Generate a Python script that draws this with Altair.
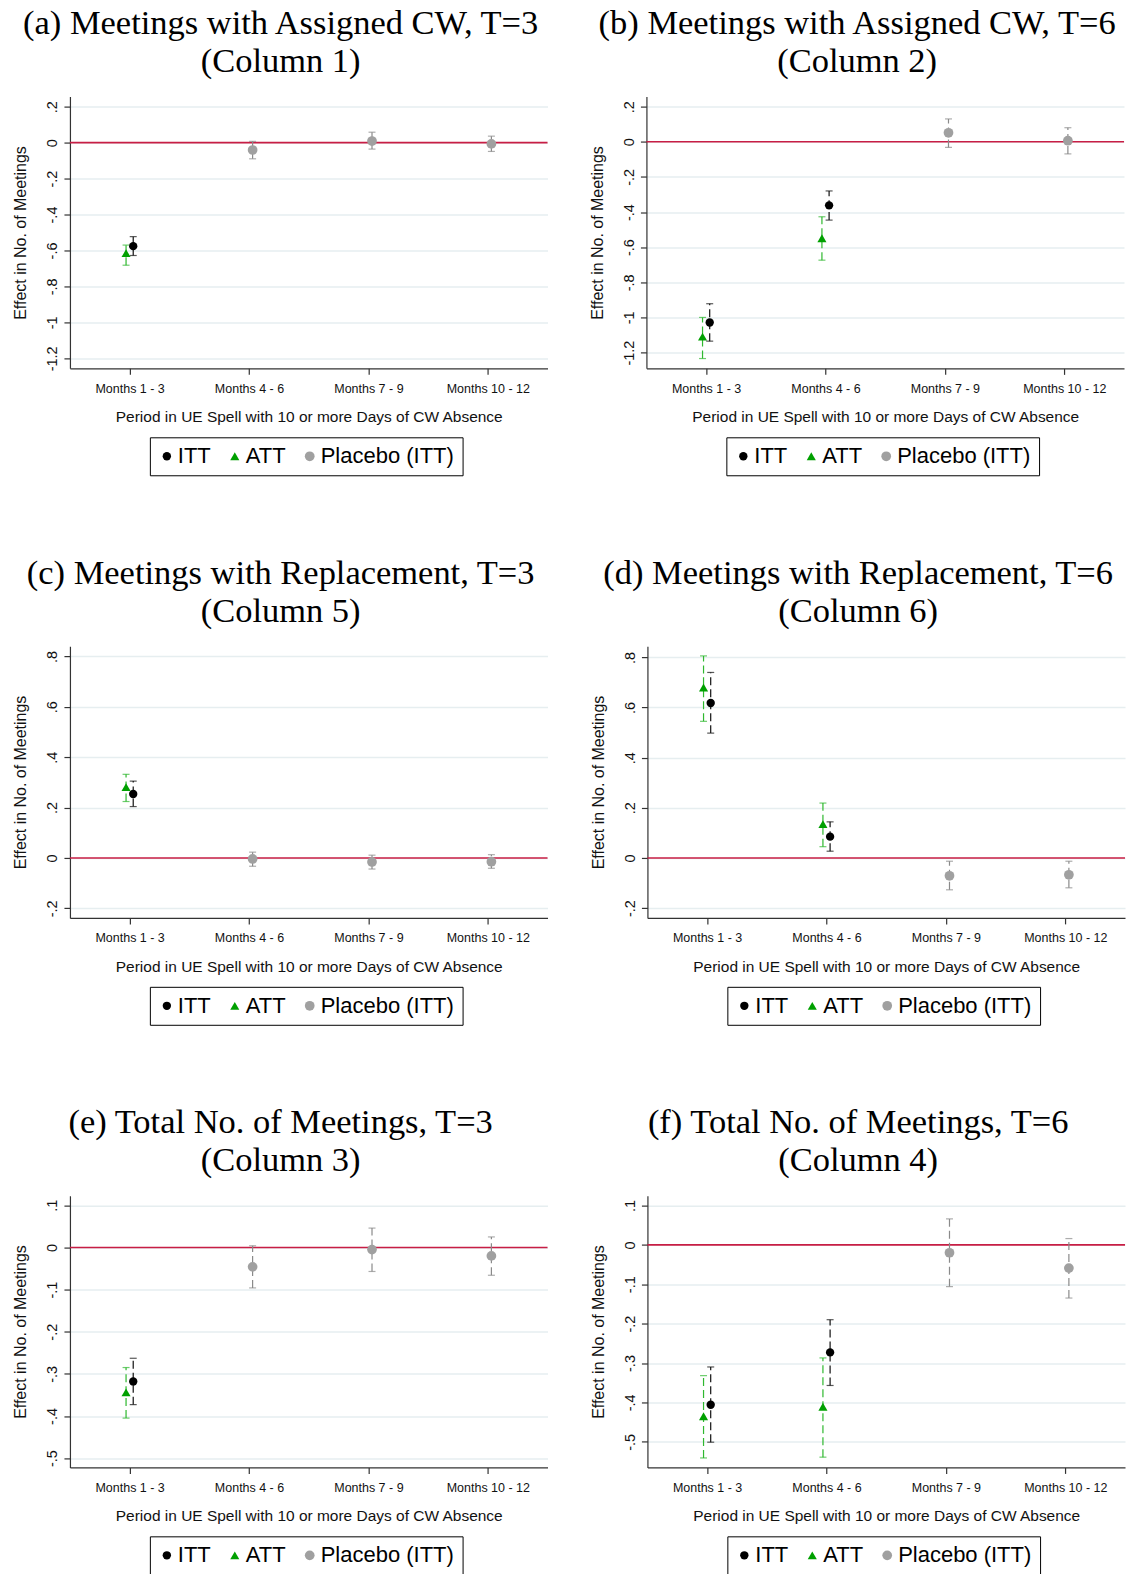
import json
import altair as alt
import pandas as pd

# ---------------- data ----------------
periods = ["Months 1 - 3", "Months 4 - 6", "Months 7 - 9", "Months 10 - 12"]
series_names = ["ITT", "ATT", "Placebo (ITT)"]

x_title = "Period in UE Spell with 10 or more Days of CW Absence"
y_title = "Effect in No. of Meetings"

# (a) Meetings with Assigned CW, T=3
a_title = ["(a) Meetings with Assigned CW, T=3", "(Column 1)"]
a_itt = [-0.576, None, None, None]
a_itt_lo = [-0.628, None, None, None]
a_itt_hi = [-0.523, None, None, None]
a_att = [-0.615, None, None, None]
a_att_lo = [-0.682, None, None, None]
a_att_hi = [-0.570, None, None, None]
a_pla = [None, -0.041, 0.009, -0.007]
a_pla_lo = [None, -0.090, -0.036, -0.049]
a_pla_hi = [None, 0.007, 0.058, 0.036]
a_ticks = [-1.2, -1.0, -0.8, -0.6, -0.4, -0.2, 0.0, 0.2]
a_range = [-1.256, 0.256]

# (b) Meetings with Assigned CW, T=6
b_title = ["(b) Meetings with Assigned CW, T=6", "(Column 2)"]
b_itt = [-1.029, -0.362, None, None]
b_itt_lo = [-1.135, -0.446, None, None]
b_itt_hi = [-0.922, -0.280, None, None]
b_att = [-1.109, -0.549, None, None]
b_att_lo = [-1.234, -0.674, None, None]
b_att_hi = [-1.000, -0.427, None, None]
b_pla = [None, None, 0.051, 0.006]
b_pla_lo = [None, None, -0.032, -0.069]
b_pla_hi = [None, None, 0.130, 0.080]
b_ticks = [-1.2, -1.0, -0.8, -0.6, -0.4, -0.2, 0.0, 0.2]
b_range = [-1.29, 0.257]

# (c) Meetings with Replacement, T=3
c_title = ["(c) Meetings with Replacement, T=3", "(Column 5)"]
c_itt = [0.254, None, None, None]
c_itt_lo = [0.204, None, None, None]
c_itt_hi = [0.305, None, None, None]
c_att = [0.281, None, None, None]
c_att_lo = [0.224, None, None, None]
c_att_hi = [0.332, None, None, None]
c_pla = [None, -0.004, -0.016, -0.015]
c_pla_lo = [None, -0.033, -0.044, -0.041]
c_pla_hi = [None, 0.023, 0.011, 0.013]
c_ticks = [-0.2, 0.0, 0.2, 0.4, 0.6, 0.8]
c_range = [-0.238, 0.841]

# (d) Meetings with Replacement, T=6
d_title = ["(d) Meetings with Replacement, T=6", "(Column 6)"]
d_itt = [0.618, 0.085, None, None]
d_itt_lo = [0.498, 0.027, None, None]
d_itt_hi = [0.740, 0.144, None, None]
d_att = [0.680, 0.135, None, None]
d_att_lo = [0.545, 0.045, None, None]
d_att_hi = [0.806, 0.219, None, None]
d_pla = [None, None, -0.071, -0.067]
d_pla_lo = [None, None, -0.127, -0.119]
d_pla_hi = [None, None, -0.013, -0.013]
d_ticks = [-0.2, 0.0, 0.2, 0.4, 0.6, 0.8]
d_range = [-0.239, 0.845]

# (e) Total No. of Meetings, T=3
e_title = ["(e) Total No. of Meetings, T=3", "(Column 3)"]
e_itt = [-0.318, None, None, None]
e_itt_lo = [-0.373, None, None, None]
e_itt_hi = [-0.263, None, None, None]
e_att = [-0.344, None, None, None]
e_att_lo = [-0.405, None, None, None]
e_att_hi = [-0.285, None, None, None]
e_pla = [None, -0.046, -0.005, -0.020]
e_pla_lo = [None, -0.096, -0.057, -0.066]
e_pla_hi = [None, 0.004, 0.046, 0.025]
e_ticks = [-0.5, -0.4, -0.3, -0.2, -0.1, 0.0, 0.1]
e_range = [-0.522, 0.123]

# (f) Total No. of Meetings, T=6
f_title = ["(f) Total No. of Meetings, T=6", "(Column 4)"]
f_itt = [-0.406, -0.273, None, None]
f_itt_lo = [-0.501, -0.357, None, None]
f_itt_hi = [-0.310, -0.190, None, None]
f_att = [-0.435, -0.411, None, None]
f_att_lo = [-0.541, -0.539, None, None]
f_att_hi = [-0.332, -0.287, None, None]
f_pla = [None, None, -0.020, -0.059]
f_pla_lo = [None, None, -0.106, -0.135]
f_pla_hi = [None, None, 0.066, 0.016]
f_ticks = [-0.5, -0.4, -0.3, -0.2, -0.1, 0.0, 0.1]
f_range = [-0.565, 0.125]

# ---------------- style ----------------
RED = "#c81e45"
marker_colors = ["#000000", "#00a000", "#a0a0a0"]
marker_sizes = [70, 95, 70]
bar_colors = {"ITT": "#111111", "ATT": "#2fb82f", "Placebo (ITT)": "#8a8a8a"}
shapes = ["circle", "triangle-up", "circle"]
x_offset = {"ITT": 0.03, "ATT": -0.03, "Placebo (ITT)": 0.03}
W, H = 478, 272
SANS = "Liberation Sans"
SERIF = "Liberation Serif"

x_label_expr = json.dumps(periods) + "[datum.value - 1]"
y_label_expr = ("datum.value == 0 ? '0' : (datum.value < 0 ? '-' : '') + "
                "replace(toString(abs(datum.value)), '0.', '.')")


def make_panel(title_lines, itt, itt_lo, itt_hi, att, att_lo, att_hi,
               pla, pla_lo, pla_hi, ticks, rng):
    groups = {
        "ITT": (itt, itt_lo, itt_hi),
        "ATT": (att, att_lo, att_hi),
        "Placebo (ITT)": (pla, pla_lo, pla_hi),
    }
    rows = []
    for s in series_names:
        est, lo, hi = groups[s]
        for i in range(4):
            if est[i] is None:
                continue
            rows.append({"series": s, "xpos": i + 1 + x_offset[s],
                         "est": est[i], "lo": lo[i], "hi": hi[i],
                         "barcol": bar_colors[s]})
    df = pd.DataFrame(rows)

    xaxis = alt.Axis(values=[1, 2, 3, 4], labelExpr=x_label_expr, title=x_title,
                     grid=False, tickSize=6, labelPadding=8, titlePadding=15,
                     labelFontSize=12.5, titleFontSize=15.5, labelFont=SANS,
                     titleFont=SANS, titleFontWeight="normal", labelOverlap=False,
                     labelFlush=False)
    yaxis = alt.Axis(values=ticks, labelExpr=y_label_expr, title=y_title,
                     grid=True, gridColor="#e6eef0", gridWidth=1.5,
                     labelAngle=270, labelAlign="center", labelBaseline="bottom",
                     labelPadding=4, tickSize=6, titlePadding=16,
                     labelFontSize=14.5, titleFontSize=16, labelFont=SANS,
                     titleFont=SANS, titleFontWeight="normal", labelOverlap=False,
                     labelFlush=False)
    xenc = alt.X("xpos:Q", scale=alt.Scale(domain=[0.5, 4.5], nice=False, zero=False),
                 axis=xaxis)
    yscale = alt.Scale(domain=rng, nice=False, zero=False)

    legend = alt.Legend(title=None, orient="none", legendX=80, legendY=341,
                        direction="horizontal", strokeColor="black", padding=8,
                        labelFontSize=22, labelFont=SANS, labelColor="black",
                        symbolSize=55, columnPadding=15, labelOffset=0,
                        symbolOffset=-2, fillColor="white", symbolStrokeWidth=0)

    base = alt.Chart(df)
    zero = alt.Chart(pd.DataFrame({"est": [0.0]})).mark_rule(
        color=RED, strokeWidth=1.6).encode(
        y=alt.Y("est:Q", scale=yscale, axis=yaxis))
    bars = base.mark_rule(strokeDash=[8, 4], strokeWidth=1.2).encode(
        x=xenc, y=alt.Y("lo:Q", scale=yscale, axis=yaxis), y2="hi:Q",
        stroke=alt.Stroke("barcol:N", scale=None))
    cap_lo = base.mark_tick(orient="horizontal", size=7, thickness=1.2).encode(
        x=xenc, y=alt.Y("lo:Q", scale=yscale, axis=yaxis),
        fill=alt.Fill("barcol:N", scale=None))
    cap_hi = base.mark_tick(orient="horizontal", size=7, thickness=1.2).encode(
        x=xenc, y=alt.Y("hi:Q", scale=yscale, axis=yaxis),
        fill=alt.Fill("barcol:N", scale=None))
    points = base.mark_point(filled=True, opacity=1, strokeWidth=0).encode(
        x=xenc, y=alt.Y("est:Q", scale=yscale, axis=yaxis),
        color=alt.Color("series:N",
                        scale=alt.Scale(domain=series_names, range=marker_colors),
                        legend=legend),
        shape=alt.Shape("series:N",
                        scale=alt.Scale(domain=series_names, range=shapes),
                        legend=legend),
        size=alt.Size("series:N",
                      scale=alt.Scale(domain=series_names, range=marker_sizes),
                      legend=None))

    return alt.layer(zero, bars, cap_lo, cap_hi, points).properties(
        width=W, height=H,
        title=alt.TitleParams(text=title_lines, font=SERIF, fontSize=34.5,
                              fontWeight="normal", anchor="middle", frame="bounds",
                              offset=17, lineHeight=38, color="black"))


pa = make_panel(a_title, a_itt, a_itt_lo, a_itt_hi, a_att, a_att_lo, a_att_hi,
                a_pla, a_pla_lo, a_pla_hi, a_ticks, a_range)
pb = make_panel(b_title, b_itt, b_itt_lo, b_itt_hi, b_att, b_att_lo, b_att_hi,
                b_pla, b_pla_lo, b_pla_hi, b_ticks, b_range)
pc = make_panel(c_title, c_itt, c_itt_lo, c_itt_hi, c_att, c_att_lo, c_att_hi,
                c_pla, c_pla_lo, c_pla_hi, c_ticks, c_range)
pd_ = make_panel(d_title, d_itt, d_itt_lo, d_itt_hi, d_att, d_att_lo, d_att_hi,
                 d_pla, d_pla_lo, d_pla_hi, d_ticks, d_range)
pe = make_panel(e_title, e_itt, e_itt_lo, e_itt_hi, e_att, e_att_lo, e_att_hi,
                e_pla, e_pla_lo, e_pla_hi, e_ticks, e_range)
pf = make_panel(f_title, f_itt, f_itt_lo, f_itt_hi, f_att, f_att_lo, f_att_hi,
                f_pla, f_pla_lo, f_pla_hi, f_ticks, f_range)


def row(left, right):
    return alt.hconcat(left, right, spacing=41).resolve_scale(
        x="independent", y="independent", color="independent", shape="independent",
        size="independent"
    ).resolve_legend(color="independent", shape="independent")


chart = alt.vconcat(row(pa, pb), row(pc, pd_), row(pe, pf), spacing=79).resolve_scale(
    x="independent", y="independent", color="independent", shape="independent",
    size="independent"
).resolve_legend(color="independent", shape="independent").properties(
    padding={"left": 12, "top": 5, "right": 0, "bottom": 0},
    background="white"
).configure_view(stroke=None).configure_axis(
    domainColor="#333333", tickColor="#333333", labelColor="#111111",
    titleColor="#111111", domainWidth=1.2, tickWidth=1.2
)

chart.save("out.html", embed_options={"renderer": "svg", "actions": False})
